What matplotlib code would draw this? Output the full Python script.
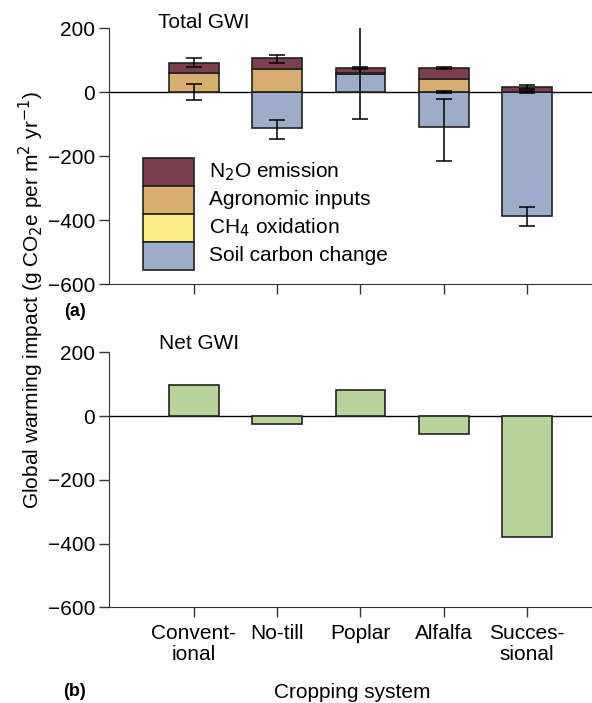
import numpy as np
import matplotlib.pyplot as plt
from matplotlib.patches import Rectangle

plt.rcParams['font.family'] = ['Liberation Sans', 'DejaVu Sans']
plt.rcParams['font.size'] = 15

systems = ['Convent-\nional', 'No-till', 'Poplar', 'Alfalfa', 'Succes-\nsional']

soil_c = [0, -112, 55, -110, -389]
ch4 = [0, 0, 0, 0, 0]
agro = [59, 71, 5, 40, 0]
n2o = [32, 34, 14, 34, 15]

top_err_mid = [92, 104, 75, 75, 15]
top_err = [14, 12, 4, 4, 7]
soil_err_mid = [1, -116, 65, -120, -390]
soil_err = [25, 30, 150, 97, 30]
small_err_mid = [np.nan, np.nan, np.nan, 0, -1]
small_err = [0, 0, 0, 2, 3]

net_gwi = [97, -24, 83, -56, -379]

legend_labels = ['N$_2$O emission', 'Agronomic inputs', 'CH$_4$ oxidation', 'Soil carbon change']

c_n2o = '#7b3f4e'
c_agro = '#d7ae6e'
c_ch4 = '#f8ec82'
c_soil = '#9dadc9'
c_net = '#b8d49b'
edge = '#222222'

x = np.arange(len(systems))
w = 0.6

fig = plt.figure(figsize=(5.92, 7.03), dpi=100)
ax1 = fig.add_axes([109/592, 1-284/703, 1-109/592, 256/703])
ax2 = fig.add_axes([109/592, 1-607.3/703, 1-109/592, 255/703])

# stacked components: positives go up from 0, negatives go down
pos = np.zeros(len(x))
neg = np.zeros(len(x))
for vals, col in [(soil_c, c_soil), (ch4, c_ch4), (agro, c_agro), (n2o, c_n2o)]:
    v = np.array(vals, dtype=float)
    base = np.where(v >= 0, pos, neg)
    ax1.bar(x, v, w, bottom=base, color=col, edgecolor=edge, linewidth=1.2, zorder=2)
    pos = pos + np.where(v > 0, v, 0)
    neg = neg + np.where(v < 0, v, 0)

for mid, e in [(top_err_mid, top_err), (soil_err_mid, soil_err), (small_err_mid, small_err)]:
    ax1.errorbar(x, mid, yerr=e, fmt='none', ecolor='black', elinewidth=1.1,
                 capsize=6, capthick=1.1, zorder=3)

ax2.bar(x, net_gwi, w, color=c_net, edgecolor=edge, linewidth=1.2, zorder=2)

for ax in (ax1, ax2):
    ax.set_xlim(-1.02, 4.78)
    ax.set_ylim(-600, 200)
    ax.set_yticks([200, 0, -200, -400, -600])
    ax.set_yticklabels(['200', '0', '\u2212200', '\u2212400', '\u2212600'])
    ax.axhline(0, color='black', linewidth=1, zorder=1)
    ax.spines['top'].set_visible(False)
    ax.spines['right'].set_visible(False)
    ax.spines['left'].set_color('#333333')
    ax.spines['bottom'].set_color('#333333')
    ax.tick_params(direction='out', length=7, width=1, color='#333333', pad=3)
    ax.set_xticks(x)

ax1.set_xticklabels([])
ax2.set_xticklabels(systems, linespacing=1.15)
ax2.tick_params(axis='x', pad=5)

ax1.text(0.101, 1.023, 'Total GWI', transform=ax1.transAxes, va='center', ha='left')
ax2.text(0.103, 1.033, 'Net GWI', transform=ax2.transAxes, va='center', ha='left')

# legend: stacked swatches drawn in axes fraction
ax_w, ax_h = 483, 256
for i, (lab, col) in enumerate(zip(legend_labels, [c_n2o, c_agro, c_ch4, c_soil])):
    top = 157.7 + 28 * i
    y0 = (284 - top - 28) / ax_h
    ax1.add_patch(Rectangle(((143-109)/ax_w, y0), 51/ax_w, 28/ax_h, transform=ax1.transAxes,
                            facecolor=col, edgecolor=edge, linewidth=1.2, zorder=4))
    ax1.text((209-109)/ax_w, y0 + 14/ax_h, lab, transform=ax1.transAxes,
             va='center', ha='left', zorder=4)

fig.text(31/592, 1-300/703, 'Global warming impact (g CO$_2$e per m$^2$ yr$^{-1}$)',
         rotation=90, ha='center', va='center')
fig.text(75/592, 1-311/703, '(a)', fontweight='bold', fontsize=13, ha='center', va='center')
fig.text(75/592, 1-692/703, '(b)', fontweight='bold', fontsize=13, ha='center', va='center')
fig.text(352/592, 1-692/703, 'Cropping system', ha='center', va='center')

fig.savefig('out.png', dpi=100)
